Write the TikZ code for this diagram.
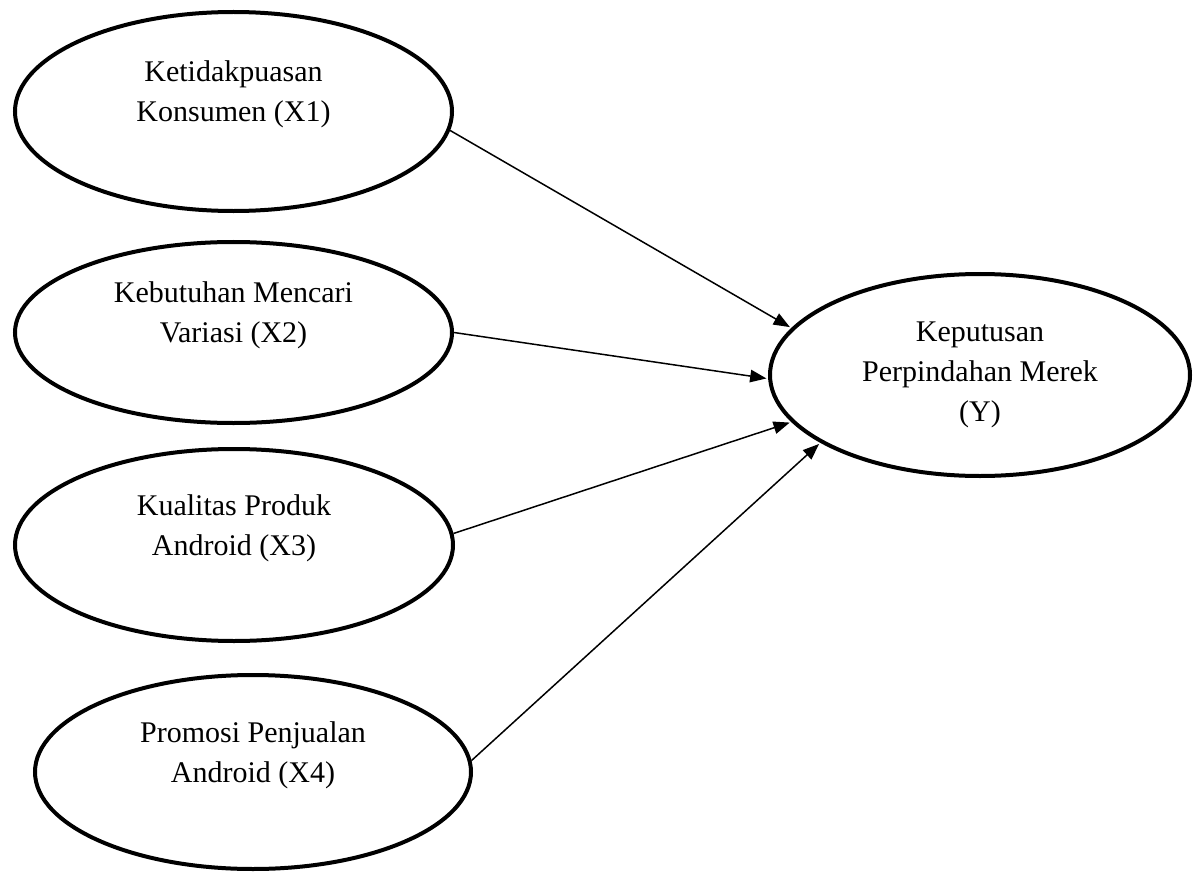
\documentclass[tikz,border=0pt]{standalone}
\usepackage{fontspec}
\setmainfont{Liberation Serif}
\usepackage{tikz}
\usetikzlibrary{arrows.meta,shapes.geometric}

\tikzset{
  var/.style={draw,ellipse,line width=1.6pt,align=center,inner sep=0pt,
    font=\fontsize{12pt}{16pt}\selectfont},
  path/.style={-{Triangle[length=6.5pt,width=5pt]},line width=0.6pt,shorten >=0.7pt}
}

\begin{document}
\begin{tikzpicture}[x=0.4pt,y=0.4pt]
      \useasboundingbox (0,0) rectangle (1195,876);
      % independent variables
      \node[var,minimum width=174.8pt,minimum height=79.6pt] (x1) at (233.5,764.5)
        {Ketidakpuasan\\Konsumen (X1)\\\mbox{}};
      \node[var,minimum width=174.8pt,minimum height=72.4pt] (x2) at (233.5,543.5)
        {Kebutuhan Mencari\\Variasi (X2)\\\mbox{}};
      \node[var,minimum width=175.2pt,minimum height=76.8pt] (x3) at (234,331)
        {Kualitas Produk\\Android (X3)\\\mbox{}};
      \node[var,minimum width=174.4pt,minimum height=77.6pt] (x4) at (253,104)
        {Promosi Penjualan\\Android (X4)\\\mbox{}};
      % dependent variable
      \node[var,minimum width=168pt,minimum height=80.8pt] (y) at (980,501)
        {Keputusan\\Perpindahan Merek\\(Y)};
      % paths
      \foreach \src/\a/\b in {x1/-5.4/166.3, x2/0.9/181.4, x3/3.4/194.2, x4/3.1/203.3}
        \draw[path] (\src.\a) -- (y.\b);
\end{tikzpicture}
\end{document}
